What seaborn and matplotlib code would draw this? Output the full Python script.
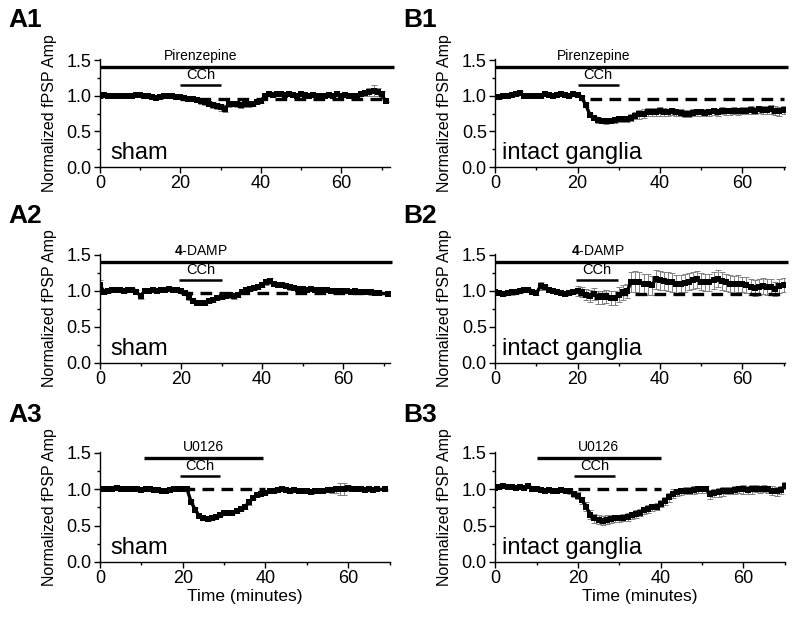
import numpy as np
import pandas as pd
import matplotlib
matplotlib.use('Agg')
import matplotlib.pyplot as plt
import seaborn as sns

nan = np.nan
minutes = list(range(72))

# normalized fPSP amplitude, one value per minute (nan = no point)
a1_amp = [1.00, 1.01, 1.00, 0.99, 1.00, 1.00, 0.99, 0.99, 1.00, 1.01, 1.01, 1.00, 0.99, 0.98, 0.97, 0.98, 0.99, 1.00,
          0.99, 0.98, 0.98, 0.97, 0.96, 0.95, 0.94, 0.92, 0.91, 0.89, 0.87, 0.86, 0.84, 0.82, 0.88, 0.89, 0.88, 0.87,
          0.88, 0.88, 0.89, 0.91, 0.93, 1.00, 1.02, 1.01, 1.02, 1.02, 1.01, 1.02, 1.01, 1.00, 1.02, 1.01, 1.00, 1.01,
          0.99, 0.99, 1.00, 1.01, 1.00, 1.02, 1.00, 1.01, 1.00, 0.99, 1.00, 1.02, 1.04, 1.05, 1.07, 1.05, 1.02, 0.92]
a1_err = [0.03, 0.02, 0.02, 0.02, 0.02, 0.02, 0.02, 0.02, 0.02, 0.02, 0.02, 0.02, 0.02, 0.02, 0.02, 0.02, 0.02, 0.02,
          0.02, 0.02, 0.02, 0.03, 0.03, 0.03, 0.03, 0.04, 0.04, 0.04, 0.04, 0.04, 0.05, 0.05, 0.04, 0.04, 0.04, 0.04,
          0.04, 0.04, 0.04, 0.03, 0.03, 0.02, 0.02, 0.02, 0.02, 0.02, 0.02, 0.02, 0.02, 0.02, 0.02, 0.02, 0.02, 0.02,
          0.02, 0.02, 0.02, 0.02, 0.02, 0.02, 0.02, 0.02, 0.02, 0.02, 0.02, 0.03, 0.04, 0.06, 0.08, 0.06, 0.04, 0.01]

b1_amp = [0.98, 0.98, 0.99, 1.00, 1.01, 1.02, 1.04, 1.00, 0.99, 1.00, 1.00, 0.99, 1.02, 1.01, 1.00, 1.01, 1.02, 1.01,
          1.00, 1.02, 1.01, 0.97, 0.87, 0.73, 0.69, 0.66, 0.65, 0.64, 0.65, 0.66, 0.67, 0.67, 0.67, 0.69, 0.72, 0.74,
          0.75, 0.77, 0.77, 0.77, 0.78, 0.77, 0.77, 0.78, 0.77, 0.76, 0.75, 0.75, 0.76, 0.77, 0.77, 0.76, 0.77, 0.78,
          0.77, 0.79, 0.78, 0.78, 0.79, 0.78, 0.79, 0.79, 0.80, 0.79, 0.81, 0.80, 0.80, 0.81, 0.79, 0.78, 0.80, nan]
b1_err = [0.02, 0.02, 0.02, 0.02, 0.02, 0.02, 0.02, 0.02, 0.02, 0.02, 0.02, 0.02, 0.02, 0.02, 0.02, 0.02, 0.02, 0.02,
          0.02, 0.02, 0.02, 0.03, 0.03, 0.03, 0.03, 0.04, 0.04, 0.04, 0.04, 0.04, 0.04, 0.04, 0.04, 0.05, 0.05, 0.06,
          0.06, 0.06, 0.06, 0.06, 0.06, 0.06, 0.05, 0.05, 0.05, 0.05, 0.05, 0.05, 0.05, 0.05, 0.05, 0.05, 0.05, 0.05,
          0.05, 0.05, 0.05, 0.05, 0.05, 0.05, 0.05, 0.05, 0.05, 0.05, 0.05, 0.05, 0.05, 0.06, 0.06, 0.06, 0.06, nan]

a2_amp = [1.08, 0.99, 1.00, 1.01, 1.02, 1.01, 1.00, 1.02, 1.01, 0.99, 0.93, 1.00, 1.00, 1.01, 1.00, 1.01, 1.02, 1.03,
          1.02, 1.01, 1.00, 0.97, 0.91, 0.86, 0.84, 0.83, 0.84, 0.86, 0.88, 0.90, 0.92, 0.93, 0.94, 0.93, 0.95, 0.99,
          1.01, 1.03, 1.04, 1.06, 1.08, 1.12, 1.14, 1.10, 1.08, 1.08, 1.07, 1.05, 1.04, 1.03, 1.03, 1.02, 1.03, 1.02,
          1.02, 1.01, 1.01, 1.00, 1.00, 1.00, 1.00, 1.00, 0.99, 1.00, 0.99, 0.99, 0.99, 0.98, 0.97, 0.97, nan, 0.96]
a2_err = [0.07, 0.03, 0.03, 0.03, 0.03, 0.03, 0.03, 0.03, 0.03, 0.03, 0.04, 0.02, 0.02, 0.02, 0.02, 0.02, 0.02, 0.02,
          0.02, 0.02, 0.02, 0.03, 0.03, 0.03, 0.03, 0.03, 0.03, 0.03, 0.03, 0.03, 0.03, 0.03, 0.04, 0.04, 0.03, 0.03,
          0.03, 0.03, 0.03, 0.03, 0.03, 0.04, 0.04, 0.03, 0.03, 0.03, 0.03, 0.03, 0.03, 0.03, 0.02, 0.02, 0.02, 0.02,
          0.02, 0.02, 0.02, 0.02, 0.02, 0.02, 0.02, 0.02, 0.02, 0.02, 0.02, 0.02, 0.02, 0.03, 0.03, 0.02, nan, 0.03]

b2_amp = [0.98, 0.97, 0.96, 0.97, 0.98, 0.99, 1.00, 1.02, 1.01, 0.99, 0.97, 1.07, 1.05, 1.01, 1.00, 0.99, 0.97, 0.96,
          0.97, 0.99, 1.00, 0.98, 0.95, 0.93, 0.96, 0.91, 0.91, 0.92, 0.90, 0.90, 0.95, 0.98, 1.00, 1.12, 1.13, 1.12,
          1.10, 1.09, 1.08, 1.16, 1.15, 1.14, 1.13, 1.12, 1.09, 1.10, 1.11, 1.13, 1.15, 1.16, 1.13, 1.12, 1.12, 1.15,
          1.17, 1.14, 1.12, 1.10, 1.09, 1.10, 1.09, 1.08, 1.05, 1.04, 1.06, 1.07, 1.06, 1.05, 1.03, 1.07, 1.08, nan]
b2_err = [0.03, 0.03, 0.03, 0.03, 0.03, 0.03, 0.03, 0.03, 0.03, 0.03, 0.03, 0.06, 0.03, 0.03, 0.03, 0.03, 0.03, 0.03,
          0.03, 0.03, 0.07, 0.07, 0.08, 0.08, 0.08, 0.09, 0.09, 0.09, 0.10, 0.10, 0.10, 0.10, 0.10, 0.14, 0.15, 0.15,
          0.14, 0.14, 0.13, 0.13, 0.13, 0.13, 0.13, 0.13, 0.13, 0.12, 0.12, 0.12, 0.12, 0.12, 0.12, 0.12, 0.12, 0.12,
          0.12, 0.12, 0.12, 0.12, 0.12, 0.12, 0.11, 0.11, 0.11, 0.11, 0.11, 0.11, 0.11, 0.11, 0.10, 0.10, 0.10, nan]

a3_amp = [1.00, 1.01, 1.00, 1.01, 1.02, 1.01, 1.00, 1.01, 1.00, 1.00, 0.99, 1.00, 1.00, 0.99, 0.99, 0.98, 0.98, 0.99,
          1.00, 1.01, 1.00, 1.01, 0.83, 0.72, 0.63, 0.60, 0.59, 0.60, 0.62, 0.65, 0.67, 0.68, 0.68, 0.70, 0.73, 0.76,
          0.82, 0.88, 0.92, 0.94, 0.95, 0.97, 0.98, 0.99, 1.00, 0.99, 0.98, 0.99, 0.98, 0.98, 0.97, 0.96, 0.97, 0.98,
          0.98, 0.99, 0.99, 1.00, 1.00, 1.00, 1.02, 1.01, 1.01, 1.00, 0.99, 1.00, 0.99, 1.00, nan, 1.00, nan, nan]
a3_err = [0.02, 0.02, 0.02, 0.02, 0.02, 0.02, 0.02, 0.02, 0.02, 0.02, 0.02, 0.02, 0.02, 0.02, 0.02, 0.02, 0.02, 0.02,
          0.02, 0.02, 0.02, 0.02, 0.02, 0.02, 0.02, 0.02, 0.02, 0.02, 0.02, 0.02, 0.02, 0.02, 0.02, 0.02, 0.03, 0.03,
          0.03, 0.02, 0.02, 0.02, 0.02, 0.02, 0.02, 0.02, 0.02, 0.02, 0.02, 0.02, 0.02, 0.02, 0.02, 0.02, 0.02, 0.02,
          0.02, 0.03, 0.04, 0.05, 0.08, 0.08, 0.04, 0.02, 0.02, 0.02, 0.02, 0.02, 0.02, 0.02, nan, 0.01, nan, nan]

b3_amp = [1.02, 1.03, 1.04, 1.03, 1.03, 1.02, 1.03, 1.02, 1.04, 1.01, 1.00, 0.99, 0.98, 0.99, 0.98, 0.98, 0.99, 0.98,
          0.97, 0.94, 0.91, 0.85, 0.76, 0.65, 0.60, 0.58, 0.57, 0.58, 0.59, 0.60, 0.60, 0.61, 0.62, 0.64, 0.66, 0.68,
          0.71, 0.73, 0.75, 0.76, 0.80, 0.84, 0.89, 0.94, 0.96, 0.97, 0.98, 0.98, 0.99, 1.00, 1.00, 1.00, 0.93, 0.95,
          0.96, 0.97, 0.98, 0.98, 0.99, 1.00, 1.00, 0.99, 1.00, 1.01, 1.00, 1.01, 1.00, 0.98, 0.97, 0.99, 1.05, nan]
b3_err = [0.02, 0.02, 0.02, 0.02, 0.02, 0.02, 0.02, 0.02, 0.02, 0.02, 0.02, 0.02, 0.02, 0.02, 0.02, 0.02, 0.03, 0.03,
          0.04, 0.04, 0.05, 0.05, 0.06, 0.06, 0.06, 0.06, 0.06, 0.06, 0.05, 0.05, 0.05, 0.05, 0.05, 0.05, 0.05, 0.05,
          0.05, 0.05, 0.05, 0.05, 0.05, 0.06, 0.06, 0.06, 0.05, 0.05, 0.05, 0.05, 0.05, 0.05, 0.05, 0.05, 0.06, 0.06,
          0.06, 0.06, 0.05, 0.05, 0.05, 0.05, 0.06, 0.06, 0.06, 0.05, 0.05, 0.05, 0.05, 0.06, 0.06, 0.06, 0.05, nan]

panel_ids = ['A1', 'B1', 'A2', 'B2', 'A3', 'B3']
groups = ['sham', 'intact ganglia', 'sham', 'intact ganglia', 'sham', 'intact ganglia']
drugs = ['Pirenzepine', 'Pirenzepine', r'$\mathbf{4}$-DAMP', r'$\mathbf{4}$-DAMP', 'U0126', 'U0126']
drug_spans = [(0, 73), (0, 71), (0, 72), (0, 71), (10.6, 39.5), (10, 40)]
cch_spans = [(20, 30), (20, 30), (19.6, 30), (19.5, 29.7), (19.3, 29), (19, 29)]
dash_spans = [(20, 70), (23, 70), (20, 70), (20, 70), (20, 40), (20, 40)]
dash_levels = [0.96, 0.96, 0.97, 0.96, 1.0, 1.0]
x_max = [72, 70.3, 71.5, 70.3, 69.5, 70]

amps = [a1_amp, b1_amp, a2_amp, b2_amp, a3_amp, b3_amp]
errs = [a1_err, b1_err, a2_err, b2_err, a3_err, b3_err]

sns.set_theme(style='ticks')
plt.rcParams['font.family'] = ['Liberation Sans', 'DejaVu Sans']
plt.rcParams['mathtext.fontset'] = 'custom'
plt.rcParams['mathtext.rm'] = 'Liberation Sans'
plt.rcParams['mathtext.bf'] = 'Liberation Sans:bold'
for key in ['text.color', 'axes.labelcolor', 'xtick.color', 'ytick.color', 'axes.edgecolor']:
    plt.rcParams[key] = 'black'

fig = plt.figure(figsize=(8, 6.22), dpi=100)
fig.patch.set_facecolor('white')

lefts = [0.125, 0.619]
bottoms = [0.7315, 0.4164, 0.0965]
heights = [0.1743, 0.176, 0.1776]

for k in range(6):
    row, col = k // 2, k % 2
    ax = fig.add_axes([lefts[col], bottoms[row], 0.362, heights[row]])
    ax.set_facecolor('white')
    df = pd.DataFrame({'minutes': minutes, 'amp': amps[k], 'err': errs[k]})

    ax.errorbar(df['minutes'], df['amp'], yerr=df['err'], fmt='none', ecolor='0.5',
                elinewidth=0.7, capsize=2, capthick=0.7, zorder=1)
    sns.lineplot(data=df, x='minutes', y='amp', ax=ax, color='black', marker='s', markersize=4,
                 markeredgewidth=0, linewidth=2.4, errorbar=None, zorder=3)

    # dashed baseline, drug bars
    top = 1.43 if row == 2 else 1.40
    cch = 1.18 if row == 2 else 1.15
    ax.plot(dash_spans[k], [dash_levels[k]] * 2, color='black', lw=2.4,
            linestyle=(0, (3.5, 2.2)), zorder=2)
    ax.plot(drug_spans[k], [top, top], color='black', lw=2.4, solid_capstyle='butt', clip_on=False)
    ax.plot(cch_spans[k], [cch, cch], color='black', lw=1.8, solid_capstyle='butt', clip_on=False)
    dmid = 25 if row < 2 else (drug_spans[k][0] + drug_spans[k][1]) / 2
    if row == 0:
        dmid = 25 if col == 0 else 24
    ax.text(dmid, top + 0.06, drugs[k], ha='center', va='bottom', fontsize=10, clip_on=False)
    ax.text(sum(cch_spans[k]) / 2, cch + 0.04, 'CCh', ha='center', va='bottom', fontsize=10.5, clip_on=False)

    ax.text(0.025 if col else 0.035, 0.07, groups[k], transform=ax.transAxes, fontsize=17, va='baseline')

    ax.set_xlim(0, x_max[k])
    ax.set_ylim(0, 1.52)
    ax.set_xticks([0, 20, 40, 60])
    ax.set_xticks([10, 30, 50, 70], minor=True)
    ax.set_yticks([0, 0.5, 1.0, 1.5])
    ax.set_yticks([0.25, 0.75, 1.25], minor=True)
    ax.set_yticklabels(['0.0', '0.5', '1.0', '1.5'])
    ax.tick_params(which='major', direction='out', length=4, width=1, labelsize=13, pad=2, color='black')
    ax.tick_params(which='minor', direction='out', length=2.5, width=1, color='black')
    for s in ['top', 'right']:
        ax.spines[s].set_visible(False)
    for s in ['left', 'bottom']:
        ax.spines[s].set_color('black')
        ax.spines[s].set_linewidth(1)

    ax.set_ylabel('Normalized fPSP Amp', fontsize=11.5)
    ax.yaxis.set_label_coords(-0.15, 0.5)
    if row == 2:
        ax.set_xlabel('Time (minutes)', fontsize=12.5, labelpad=1)
    else:
        ax.set_xlabel('')

    fig.text(0.01 if col == 0 else 0.504, [0.968, 0.652, 0.332][row], panel_ids[k],
             fontsize=19, fontweight='bold', va='center', ha='left')

fig.savefig('out.png', dpi=100, facecolor='white')
